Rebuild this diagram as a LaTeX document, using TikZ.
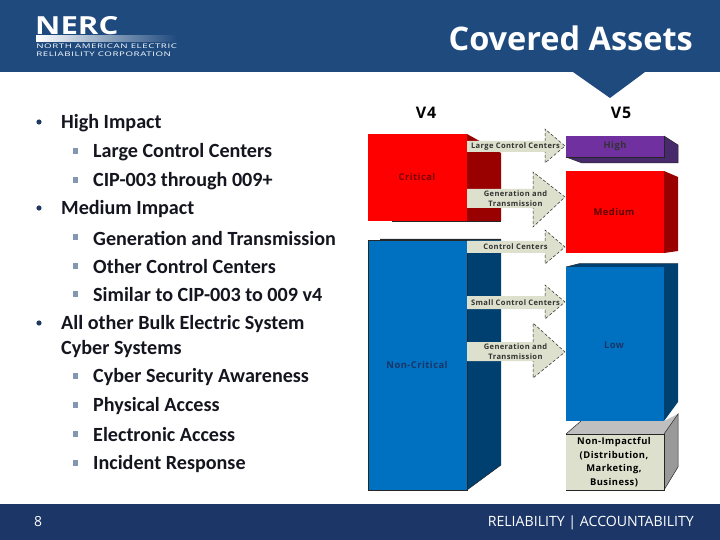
\documentclass[tikz,border=0pt]{standalone}
\usepackage{fontspec}
\setmainfont{Carlito}
\newfontfamily\symfont{DejaVu Sans}
\newfontfamily\titlefont{Open Sans}
\newfontfamily\labelfont[LetterSpace=5]{Open Sans}
\newfontfamily\logofont[LetterSpace=6]{Open Sans}
\definecolor{headblue}{HTML}{1F4A7E}
\definecolor{footblue}{HTML}{1B3667}
\definecolor{bodytext}{HTML}{15151F}
\definecolor{bulletblue}{HTML}{1F3864}
\definecolor{squaregray}{HTML}{8497B0}
\definecolor{arrowfill}{HTML}{DDE0CC}
\definecolor{redfront}{HTML}{FF0000}
\definecolor{redside}{HTML}{990000}
\definecolor{bluefront}{HTML}{0070C0}
\definecolor{blueside}{HTML}{004070}
\definecolor{purplefront}{HTML}{7030A0}
\definecolor{purpleside}{HTML}{472A6C}
\tikzset{
  toplevel/.style={anchor=west,inner sep=0pt,text=bodytext,font=\fontsize{20.2}{24}\selectfont\bfseries},
  sublevel/.style={toplevel},
  boxlabel/.style={inner sep=0pt,align=center,font=\fontsize{9.4}{13.5}\labelfont\bfseries},
  arrowlabel/.style={inner sep=0pt,align=center,text=black!80,font=\fontsize{7.6}{10}\labelfont\bfseries},
  versionlabel/.style={inner sep=0pt,font=\fontsize{16}{18}\labelfont\bfseries},
  edge/.style={draw=black!85,line width=0.5pt},
}
\begin{document}
\begin{tikzpicture}[x=1bp,y=-1bp]
\useasboundingbox (0,0) rectangle (720,540);

\fill[white] (0,0) rectangle (720,540);
\fill[headblue] (0,0) rectangle (720,72);
\fill[headblue] (573,72) -- (610,98) -- (645,72) -- cycle;
\fill[footblue] (0,504) rectangle (720,540);

\node[inner sep=0pt,anchor=east,text=white,font=\fontsize{32.6}{36}\titlefont\bfseries] (title) at (693,38) {Covered Assets};
\node[inner sep=0pt,anchor=west,text=white,font=\fontsize{25}{25}\titlefont\bfseries,xscale=1.25] (logoname) at (35,25.5) {NERC};
\shade[left color=white,right color=headblue] (36,36) rectangle (177,42);
\node[inner sep=0pt,anchor=west,text=white,font=\fontsize{6.4}{7}\logofont,xscale=1.52] (logoline) at (36,46.5) {NORTH AMERICAN ELECTRIC};
\node[inner sep=0pt,anchor=west,text=white,font=\fontsize{6.4}{7}\logofont,xscale=1.52] (logocorp) at (36,54) {RELIABILITY CORPORATION};
\node[inner sep=0pt,text=white,font=\fontsize{14}{16}\titlefont] (pagenum) at (38,522) {8};
\node[inner sep=0pt,anchor=east,text=white,font=\fontsize{14.2}{16}\titlefont] (motto) at (694,523) {RELIABILITY | ACCOUNTABILITY};

\foreach \y/\label in {122/High Impact, 208/Medium Impact, 323/All other Bulk Electric System, 348/Cyber Systems} {
    \node[toplevel] at (61,\y+1) {\label};
}
\foreach \y in {122,208,323} {
    \fill[bulletblue] (39,\y) circle (2.6);
}
\foreach \y/\label in {151/Large Control Centers, 180/CIP-003 through 009+, 237/Generation and Transmission, 266/Other Control Centers, 294/Similar to CIP-003 to 009 v4, 376/Cyber Security Awareness, 405/Physical Access, 434/Electronic Access, 463/Incident Response} {
    \fill[squaregray] (72.5,\y-3) rectangle (78,\y+3);
    \node[sublevel] at (93,\y+1) {\label};
}

\node[versionlabel] (vfour) at (426,113) {V4};
\node[versionlabel] (vfive) at (621,113) {V5};

\fill[redside] (467,134) -- (501,153) -- (501,221) -- (467,221) -- cycle;
\fill[redfront] (368,134) rectangle (467,221);
\draw[edge] (392,221) -- (501,221);
\node[boxlabel,text=redside!80!black] (critical) at (417,177) {Critical};

\fill[blueside] (380,239) -- (501,239) -- (501,465) -- (467,490) -- (467,240) -- cycle;
\fill[bluefront] (368,240) rectangle (467,490);
\draw[edge] (380,239) -- (501,239);
\draw[edge] (368,240) -- (467,240) -- (467,490) -- (368,490) -- cycle;
\draw[edge] (467,490) -- (501,465);
\node[boxlabel,text=footblue] (noncritical) at (417,365) {Non-Critical};

\fill[purpleside] (566,157) -- (582,163) -- (678,163) -- (678,145) -- (664,136) -- (664,157) -- cycle;
\fill[purplefront] (566,136) rectangle (664,157);
\draw[edge] (566,157) -- (582,163) -- (678,163) -- (678,145) -- (664,136);
\draw[edge] (664,136) -- (664,157) -- (566,157);
\node[boxlabel,text=black!80] (high) at (615,146) {High};

\fill[redside] (664,171) -- (678,177) -- (678,251) -- (664,253) -- cycle;
\fill[redfront] (566,171) rectangle (664,253);
\node[boxlabel,text=redside!60!black] (medium) at (614,212) {Medium};

\fill[blueside] (566,267) -- (580,263.5) -- (678,263.5) -- (678,402) -- (664,421) -- (664,267) -- cycle;
\fill[bluefront] (566,267) rectangle (664,421);
\draw[edge] (566,267) -- (580,263.5) -- (678,263.5);
\node[boxlabel,text=footblue] (low) at (614,345) {Low};

\fill[black!25] (566,434) -- (581,421) -- (664,421) -- (678,414) -- (664,434) -- cycle;
\fill[black!40] (664,434) -- (678,414) -- (678,467) -- (664,490) -- cycle;
\fill[arrowfill] (566,434) rectangle (664,490);
\draw[edge] (566,434) -- (581,421);
\draw[edge] (566,434) -- (664,434) -- (664,490) -- (566,490);
\draw[edge] (664,434) -- (678,414) -- (678,467) -- (664,490);
\node[boxlabel,text=black] (nonimpactful) at (614,462) {Non-Impactful\\(Distribution,\\Marketing,\\Business)};

\foreach \a/\bx/\yt/\yb/\headtop/\headbot/\tipy/\label in {
    largecc/545/141/152/129/163/146/{Large Control Centers},
    gentop/533/189/208/172/227/197/{Generation and\\Transmission},
    controlcc/545/241/253/230/264/247/{Control Centers},
    smallcc/545/296/309/285/319/302/{Small Control Centers},
    genlow/533/342/361/323/378/352/{Generation and\\Transmission}} {
    \fill[arrowfill] (467,\yt) -- (\bx,\yt) -- (\bx,\headtop) -- (565,\tipy) -- (\bx,\headbot) -- (\bx,\yb) -- (467,\yb) -- cycle;
    \draw[edge,densely dashed] (\bx,\yt) -- (\bx,\headtop) -- (565,\tipy) -- (\bx,\headbot) -- (\bx,\yb);
    \node[arrowlabel] (\a) at (515.5,{(\yt+\yb)/2}) {\label};
}
\end{tikzpicture}
\end{document}
